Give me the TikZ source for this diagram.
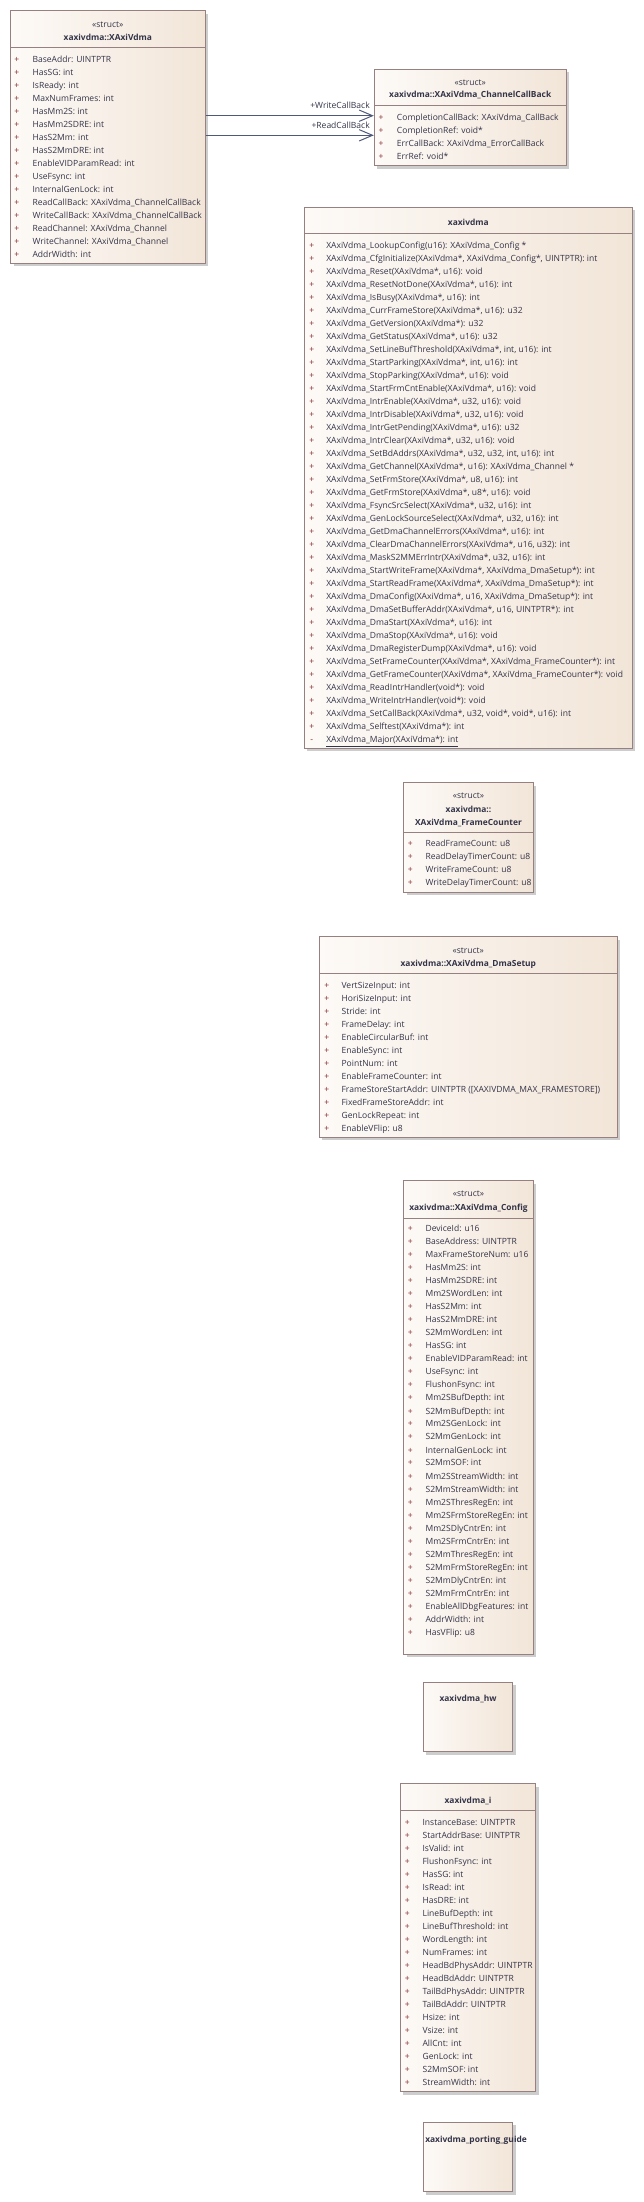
\documentclass[tikz,border=0pt]{standalone}
\usepackage{fontspec}
\setmainfont{Open Sans}
\usetikzlibrary{fit,shadows,arrows.meta}
\definecolor{bordc}{RGB}{150,128,128}
\definecolor{fillL}{RGB}{253,250,247}
\definecolor{fillR}{RGB}{242,229,216}
\definecolor{shadc}{RGB}{205,205,205}
\definecolor{txtc}{RGB}{52,52,72}
\definecolor{plusc}{RGB}{135,45,45}
\definecolor{linec}{RGB}{78,88,120}
\newcommand\rowfont{\fontsize{6.4}{7.5}\selectfont}
\newcommand\ttlfont{\fontsize{6.3}{7.5}\selectfont\bfseries}
\newcommand\umlrows[6]{%
  \foreach \t [count=\i from 0] in {#6} {
    \node[plussym] (#1p\i) at (#2,#4+13*\i) {#5};
    \node[rowtxt] (#1r\i) at (#3,#4+13*\i) {\t};
  }}
\tikzset{
  umlbox/.style={draw=bordc, line width=0.75pt, left color=fillL, right color=fillR,
    inner sep=0pt, drop shadow={shadow xshift=2.3pt, shadow yshift=-2.3pt, fill=shadc, opacity=1}},
  sepline/.style={draw=bordc, line width=0.75pt},
  rowtxt/.style={anchor=west, inner sep=0pt, font=\rowfont, text=txtc, text height=1.6ex, text depth=0.4ex},
  plussym/.style={anchor=center, inner sep=0pt, font=\rowfont, text=plusc, text height=1.6ex, text depth=0.4ex},
  ttl/.style={anchor=center, inner sep=0pt, font=\ttlfont, text=txtc, text height=1.6ex, text depth=0.4ex},
  stereo/.style={anchor=center, inner sep=0pt, font=\rowfont, text=txtc, text height=1.6ex, text depth=0.4ex},
  assoc/.style={draw=linec, line width=0.75pt, -{Straight Barb[length=10pt, width=8.5pt]}},
  lbl/.style={anchor=east, inner sep=0pt, font=\rowfont, text=txtc, text height=1.6ex, text depth=0.4ex}
}
\begin{document}
\begin{tikzpicture}[x=0.75pt,y=-0.75pt]
\useasboundingbox (0,0) rectangle (643,2202);

% ---------- XAxiVdma ----------
\node[umlbox, fit={(10.7,10.7) (205,263)}] (xav) {};
\draw[sepline] (xav.west |- 0,47.3) -- (xav.east |- 0,47.3);
\node[stereo] (xavs) at (107.8,23.3) {«struct»};
\node[ttl] (xavt) at (107.8,36) {xaxivdma::XAxiVdma};
\umlrows{xav}{16.7}{32.3}{58.3}{+}{{BaseAddr: UINTPTR},{HasSG: int},{IsReady: int},{MaxNumFrames: int},{HasMm2S: int},{HasMm2SDRE: int},{HasS2Mm: int},{HasS2MmDRE: int},{EnableVIDParamRead: int},{UseFsync: int},{InternalGenLock: int},{ReadCallBack: XAxiVdma\_ChannelCallBack},{WriteCallBack: XAxiVdma\_ChannelCallBack},{ReadChannel: XAxiVdma\_Channel},{WriteChannel: XAxiVdma\_Channel},{AddrWidth: int}}

% ---------- ChannelCallBack ----------
\node[umlbox, fit={(374.3,69) (566,165.5)}] (cb) {};
\draw[sepline] (cb.west |- 0,105.7) -- (cb.east |- 0,105.7);
\node[stereo] (cbs) at (470.2,81) {«struct»};
\node[ttl] (cbt) at (470.2,93.7) {xaxivdma::XAxiVdma\_ChannelCallBack};
\umlrows{cb}{381}{396.7}{116.7}{+}{{CompletionCallBack: XAxiVdma\_CallBack},{CompletionRef: void*},{ErrCallBack: XAxiVdma\_ErrorCallBack},{ErrRef: void*}}

% ---------- associations ----------
\draw[assoc] (xav.east |- 0,115.7) -- (cb.west |- 0,115.7);
\draw[assoc] (xav.east |- 0,135.3) -- (cb.west |- 0,135.3);
\node[lbl] (lblw) at (370,104.3) {+WriteCallBack};
\node[lbl] (lblr) at (370,124.3) {+ReadCallBack};

% ---------- xaxivdma ----------
\node[umlbox, fit={(304.3,207.3) (632.3,748)}] (xv) {};
\draw[sepline] (xv.west |- 0,233.3) -- (xv.east |- 0,233.3);
\node[ttl] (xvt) at (468.3,221.7) {xaxivdma};
\umlrows{xv}{311.7}{326}{244.3}{+}{{XAxiVdma\_LookupConfig(u16): XAxiVdma\_Config *},{XAxiVdma\_CfgInitialize(XAxiVdma*, XAxiVdma\_Config*, UINTPTR): int},{XAxiVdma\_Reset(XAxiVdma*, u16): void},{XAxiVdma\_ResetNotDone(XAxiVdma*, u16): int},{XAxiVdma\_IsBusy(XAxiVdma*, u16): int},{XAxiVdma\_CurrFrameStore(XAxiVdma*, u16): u32},{XAxiVdma\_GetVersion(XAxiVdma*): u32},{XAxiVdma\_GetStatus(XAxiVdma*, u16): u32},{XAxiVdma\_SetLineBufThreshold(XAxiVdma*, int, u16): int},{XAxiVdma\_StartParking(XAxiVdma*, int, u16): int},{XAxiVdma\_StopParking(XAxiVdma*, u16): void},{XAxiVdma\_StartFrmCntEnable(XAxiVdma*, u16): void},{XAxiVdma\_IntrEnable(XAxiVdma*, u32, u16): void},{XAxiVdma\_IntrDisable(XAxiVdma*, u32, u16): void},{XAxiVdma\_IntrGetPending(XAxiVdma*, u16): u32},{XAxiVdma\_IntrClear(XAxiVdma*, u32, u16): void},{XAxiVdma\_SetBdAddrs(XAxiVdma*, u32, u32, int, u16): int},{XAxiVdma\_GetChannel(XAxiVdma*, u16): XAxiVdma\_Channel *},{XAxiVdma\_SetFrmStore(XAxiVdma*, u8, u16): int},{XAxiVdma\_GetFrmStore(XAxiVdma*, u8*, u16): void},{XAxiVdma\_FsyncSrcSelect(XAxiVdma*, u32, u16): int},{XAxiVdma\_GenLockSourceSelect(XAxiVdma*, u32, u16): int},{XAxiVdma\_GetDmaChannelErrors(XAxiVdma*, u16): int},{XAxiVdma\_ClearDmaChannelErrors(XAxiVdma*, u16, u32): int},{XAxiVdma\_MaskS2MMErrIntr(XAxiVdma*, u32, u16): int},{XAxiVdma\_StartWriteFrame(XAxiVdma*, XAxiVdma\_DmaSetup*): int},{XAxiVdma\_StartReadFrame(XAxiVdma*, XAxiVdma\_DmaSetup*): int},{XAxiVdma\_DmaConfig(XAxiVdma*, u16, XAxiVdma\_DmaSetup*): int},{XAxiVdma\_DmaSetBufferAddr(XAxiVdma*, u16, UINTPTR*): int},{XAxiVdma\_DmaStart(XAxiVdma*, u16): int},{XAxiVdma\_DmaStop(XAxiVdma*, u16): void},{XAxiVdma\_DmaRegisterDump(XAxiVdma*, u16): void},{XAxiVdma\_SetFrameCounter(XAxiVdma*, XAxiVdma\_FrameCounter*): int},{XAxiVdma\_GetFrameCounter(XAxiVdma*, XAxiVdma\_FrameCounter*): void},{XAxiVdma\_ReadIntrHandler(void*): void},{XAxiVdma\_WriteIntrHandler(void*): void},{XAxiVdma\_SetCallBack(XAxiVdma*, u32, void*, void*, u16): int},{XAxiVdma\_Selftest(XAxiVdma*): int}}
\node[plussym] (xvpm) at (311.7,738.3) {-};
\node[rowtxt] (xvrm) at (326,738.3) {\underline{XAxiVdma\_Major(XAxiVdma*): int}};

% ---------- FrameCounter ----------
\node[umlbox, fit={(403.7,782.7) (533.3,892.3)}] (fc) {};
\draw[sepline] (fc.west |- 0,832) -- (fc.east |- 0,832);
\node[stereo] (fcs) at (468.5,794.7) {«struct»};
\node[ttl] (fct1) at (468.5,808.3) {xaxivdma::};
\node[ttl] (fct2) at (468.5,821) {XAxiVdma\_FrameCounter};
\umlrows{fc}{410.3}{425.3}{842.7}{+}{{ReadFrameCount: u8},{ReadDelayTimerCount: u8},{WriteFrameCount: u8},{WriteDelayTimerCount: u8}}

% ---------- DmaSetup ----------
\node[umlbox, fit={(319.3,936.7) (617.3,1137)}] (ds) {};
\draw[sepline] (ds.west |- 0,973.3) -- (ds.east |- 0,973.3);
\node[stereo] (dss) at (468.3,949) {«struct»};
\node[ttl] (dst) at (468.3,962) {xaxivdma::XAxiVdma\_DmaSetup};
\umlrows{ds}{326.7}{341.3}{984}{+}{{VertSizeInput: int},{HoriSizeInput: int},{Stride: int},{FrameDelay: int},{EnableCircularBuf: int},{EnableSync: int},{PointNum: int},{EnableFrameCounter: int},{FrameStoreStartAddr: UINTPTR ([XAXIVDMA\_MAX\_FRAMESTORE])},{FixedFrameStoreAddr: int},{GenLockRepeat: int},{EnableVFlip: u8}}

% ---------- Config ----------
\node[umlbox, fit={(403.7,1180.7) (533.3,1654)}] (cf) {};
\draw[sepline] (cf.west |- 0,1218.3) -- (cf.east |- 0,1218.3);
\node[stereo] (cfs) at (468.5,1192.7) {«struct»};
\node[ttl] (cft) at (468.5,1206) {xaxivdma::XAxiVdma\_Config};
\umlrows{cf}{410.3}{425.3}{1227.7}{+}{{DeviceId: u16},{BaseAddress: UINTPTR},{MaxFrameStoreNum: u16},{HasMm2S: int},{HasMm2SDRE: int},{Mm2SWordLen: int},{HasS2Mm: int},{HasS2MmDRE: int},{S2MmWordLen: int},{HasSG: int},{EnableVIDParamRead: int},{UseFsync: int},{FlushonFsync: int},{Mm2SBufDepth: int},{S2MmBufDepth: int},{Mm2SGenLock: int},{S2MmGenLock: int},{InternalGenLock: int},{S2MmSOF: int},{Mm2SStreamWidth: int},{S2MmStreamWidth: int},{Mm2SThresRegEn: int},{Mm2SFrmStoreRegEn: int},{Mm2SDlyCntrEn: int},{Mm2SFrmCntrEn: int},{S2MmThresRegEn: int},{S2MmFrmStoreRegEn: int},{S2MmDlyCntrEn: int},{S2MmFrmCntrEn: int},{EnableAllDbgFeatures: int},{AddrWidth: int},{HasVFlip: u8}}

% ---------- xaxivdma_hw ----------
\node[umlbox, fit={(423.3,1682.3) (512.7,1751.7)}] (hw) {};
\node[ttl] (hwt) at (468,1697.3) {xaxivdma\_hw};

% ---------- xaxivdma_i ----------
\node[umlbox, fit={(400.3,1783.7) (535.7,2091.7)}] (vi) {};
\draw[sepline] (vi.west |- 0,1810.3) -- (vi.east |- 0,1810.3);
\node[ttl] (vit) at (468,1799) {xaxivdma\_i};
\umlrows{vi}{407.3}{422.3}{1821}{+}{{InstanceBase: UINTPTR},{StartAddrBase: UINTPTR},{IsValid: int},{FlushonFsync: int},{HasSG: int},{IsRead: int},{HasDRE: int},{LineBufDepth: int},{LineBufThreshold: int},{WordLength: int},{NumFrames: int},{HeadBdPhysAddr: UINTPTR},{HeadBdAddr: UINTPTR},{TailBdPhysAddr: UINTPTR},{TailBdAddr: UINTPTR},{Hsize: int},{Vsize: int},{AllCnt: int},{GenLock: int},{S2MmSOF: int},{StreamWidth: int}}

% ---------- porting guide ----------
\node[umlbox, fit={(423.3,2122.3) (512.7,2191.7)}] (pg) {};
\node[ttl, anchor=west] (pgt) at (425,2137.7) {xaxivdma\_porting\_guide};
\end{tikzpicture}
\end{document}
